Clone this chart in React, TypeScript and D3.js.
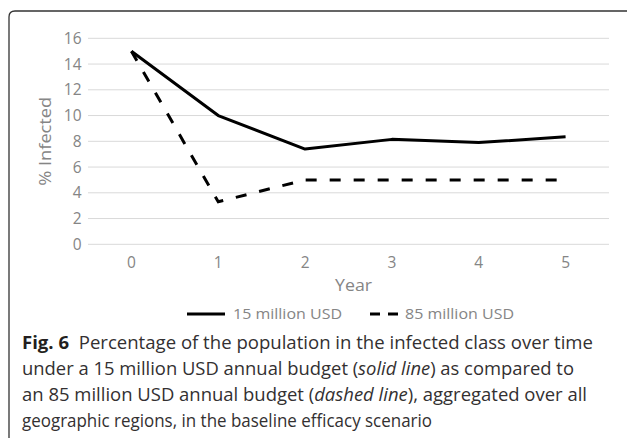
import React from "react";
import * as d3 from "d3";

const years = ["0", "1", "2", "3", "4", "5"];
const budget15 = [15, 10, 7.4, 8.15, 7.9, 8.35];
const budget85 = [15, 3.3, 5.0, 5.0, 5.0, 5.0];
const yTicks = [0, 2, 4, 6, 8, 10, 12, 14, 16];
const seriesNames = ["15 million USD", "85 million USD"];
const captionLines = [
  "Percentage of the population in the infected class over time",
  "under a 15 million USD annual budget (",
  "an 85 million USD annual budget (",
  "geographic regions, in the baseline efficacy scenario",
];

const W = 627;
const H = 438;
const chartFont = "'Open Sans', 'Noto Sans', sans-serif";
const capFont = "'Open Sans', 'Noto Sans', sans-serif";
const gray = "#858585";

export default function App() {
  const x = d3.scaleBand<string>().domain(years).range([88, 609]);
  const y = d3.scaleLinear().domain([0, 16]).range([244.3, 38.3]);
  const cx = (d: string) => (x(d) as number) + x.bandwidth() / 2;
  const line = d3
    .line<number>()
    .x((_, i) => cx(years[i]))
    .y((v) => y(v));

  return (
    <svg
      width={W}
      height={H}
      style={{ position: "absolute", left: 0, top: 0, background: "#fff" }}
    >
      <rect width={W} height={H} fill="#fff" />
      <path
        d={`M9,${H} L9,17 Q9,11 15,11 L${W},11`}
        fill="none"
        stroke="#333"
        strokeWidth={1.3}
      />
      <g fontFamily={chartFont} fill={gray}>
        {yTicks.map((t) => (
          <g key={t}>
            <line x1={88} x2={609} y1={y(t)} y2={y(t)} stroke="#d9d9d9" strokeWidth={1} />
            <text x={81.5} y={y(t)} dy="0.36em" textAnchor="end" fontSize={15.5}>
              {t}
            </text>
          </g>
        ))}
        {years.map((d) => (
          <text key={d} x={cx(d)} y={262} dy="0.36em" textAnchor="middle" fontSize={15.5}>
            {d}
          </text>
        ))}
        <text
          x={353.5}
          y={285}
          dy="0.36em"
          textAnchor="middle"
          fontSize={17}
          textLength={37}
          lengthAdjust="spacingAndGlyphs"
        >
          Year
        </text>
        <text
          transform={`translate(45,${(y(0) + y(16)) / 2}) rotate(-90)`}
          dy="0.36em"
          textAnchor="middle"
          fontSize={17}
          textLength={89}
          lengthAdjust="spacingAndGlyphs"
        >
          % Infected
        </text>
        <text
          x={233}
          y={314}
          dy="0.36em"
          fontSize={15}
          textLength={109}
          lengthAdjust="spacingAndGlyphs"
        >
          {seriesNames[0]}
        </text>
        <text
          x={405}
          y={314}
          dy="0.36em"
          fontSize={15}
          textLength={109}
          lengthAdjust="spacingAndGlyphs"
        >
          {seriesNames[1]}
        </text>
      </g>
      <path d={line(budget15) || ""} fill="none" stroke="#000" strokeWidth={3} strokeLinejoin="round" />
      <path
        d={line(budget85) || ""}
        fill="none"
        stroke="#000"
        strokeWidth={3}
        strokeDasharray="11 13"
        strokeLinecap="butt"
      />
      <line x1={187} x2={225} y1={314} y2={314} stroke="#000" strokeWidth={3} />
      <line
        x1={370}
        x2={398}
        y1={314}
        y2={314}
        stroke="#000"
        strokeWidth={3}
        strokeDasharray="10 8"
      />
      <g fontFamily={capFont} fontSize={17.5} fill="#333031">
        <text x={22} y={349} textLength={571} lengthAdjust="spacingAndGlyphs">
          <tspan fontWeight="bold" fill="#231f20">Fig. 6</tspan>
          <tspan>{"\u00a0\u00a0" + captionLines[0]}</tspan>
        </text>
        <text x={22} y={375} textLength={552} lengthAdjust="spacingAndGlyphs">
          <tspan>{captionLines[1]}</tspan>
          <tspan fontStyle="italic">solid line</tspan>
          <tspan>) as compared to</tspan>
        </text>
        <text x={22} y={401} textLength={565} lengthAdjust="spacingAndGlyphs">
          <tspan>{captionLines[2]}</tspan>
          <tspan fontStyle="italic">dashed line</tspan>
          <tspan>), aggregated over all</tspan>
        </text>
        <text x={22} y={427} textLength={410} lengthAdjust="spacingAndGlyphs">
          {captionLines[3]}
        </text>
      </g>
    </svg>
  );
}
